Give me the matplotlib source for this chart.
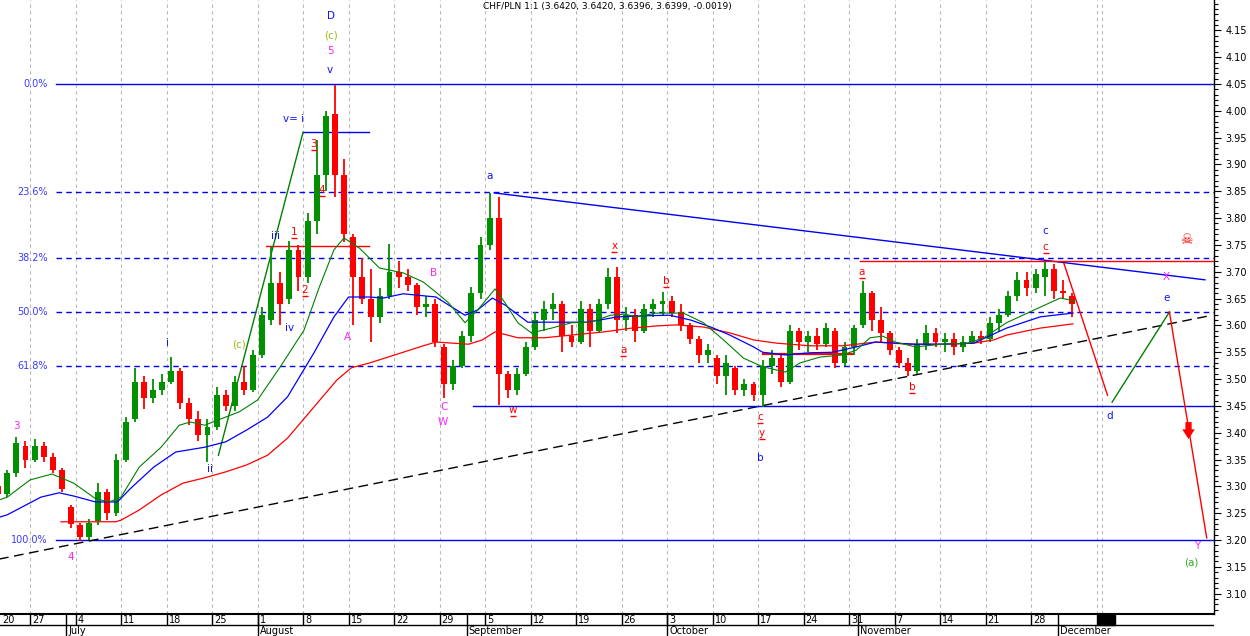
import numpy as np
import matplotlib.pyplot as plt
import matplotlib.transforms as mtransforms
from matplotlib.ticker import MultipleLocator

# === Daily OHLC, trading days 20 Jun 2011 .. 2 Dec 2011 (one row per week) ===
opens = [3.315, 3.300, 3.285, 3.325, 3.375,
         3.350, 3.375, 3.355, 3.330, 3.262,
         3.228, 3.205, 3.235, 3.290, 3.250,
         3.350, 3.425, 3.495, 3.465, 3.480,
         3.495, 3.515, 3.455, 3.425, 3.395,
         3.410, 3.470, 3.450, 3.495, 3.480,
         3.545, 3.610, 3.680, 3.650, 3.740,
         3.690, 3.795, 3.880, 3.995, 3.880,
         3.765, 3.690, 3.650, 3.615, 3.655,
         3.700, 3.690, 3.675, 3.635, 3.640,
         3.560, 3.490, 3.525, 3.580, 3.660,
         3.750, 3.800, 3.510, 3.480, 3.510,
         3.560, 3.610, 3.630, 3.640, 3.580,
         3.570, 3.630, 3.590, 3.640, 3.690,
         3.610, 3.620, 3.590, 3.630, 3.640,
         3.645, 3.625, 3.600, 3.575, 3.545,
         3.540, 3.505, 3.520, 3.480, 3.490,
         3.470, 3.525, 3.540, 3.495, 3.590,
         3.570, 3.580, 3.565, 3.590, 3.530,
         3.560, 3.600, 3.660, 3.610, 3.585,
         3.555, 3.530, 3.515, 3.565, 3.585,
         3.570, 3.575, 3.560, 3.570, 3.580,
         3.575, 3.605, 3.620, 3.655, 3.685,
         3.670, 3.690, 3.705, 3.665, 3.655]
highs = [3.322, 3.305, 3.330, 3.392, 3.385,
         3.388, 3.382, 3.362, 3.335, 3.265,
         3.232, 3.240, 3.306, 3.295, 3.360,
         3.430, 3.520, 3.505, 3.500, 3.510,
         3.542, 3.520, 3.465, 3.440, 3.425,
         3.485, 3.480, 3.505, 3.525, 3.555,
         3.635, 3.746, 3.700, 3.757, 3.750,
         3.810, 3.945, 4.000, 4.048, 3.910,
         3.770, 3.725, 3.705, 3.670, 3.752,
         3.720, 3.705, 3.680, 3.655, 3.650,
         3.565, 3.535, 3.590, 3.672, 3.765,
         3.847, 3.840, 3.515, 3.520, 3.570,
         3.625, 3.645, 3.660, 3.645, 3.600,
         3.645, 3.640, 3.650, 3.707, 3.708,
         3.635, 3.630, 3.640, 3.650, 3.662,
         3.655, 3.640, 3.605, 3.580, 3.565,
         3.545, 3.545, 3.525, 3.500, 3.495,
         3.535, 3.555, 3.545, 3.600, 3.595,
         3.590, 3.595, 3.605, 3.595, 3.570,
         3.600, 3.682, 3.665, 3.635, 3.590,
         3.560, 3.540, 3.575, 3.600, 3.595,
         3.585, 3.585, 3.580, 3.590, 3.590,
         3.615, 3.630, 3.665, 3.700, 3.700,
         3.705, 3.718, 3.715, 3.685, 3.660]
lows = [3.295, 3.278, 3.280, 3.318, 3.335,
        3.345, 3.345, 3.325, 3.290, 3.222,
        3.198, 3.200, 3.228, 3.238, 3.245,
        3.345, 3.420, 3.445, 3.455, 3.470,
        3.490, 3.445, 3.415, 3.385, 3.345,
        3.405, 3.440, 3.440, 3.470, 3.475,
        3.540, 3.600, 3.600, 3.640, 3.665,
        3.680, 3.770, 3.850, 3.840, 3.755,
        3.600, 3.640, 3.570, 3.605, 3.650,
        3.670, 3.665, 3.620, 3.615, 3.560,
        3.465, 3.480, 3.520, 3.570, 3.650,
        3.740, 3.452, 3.465, 3.470, 3.505,
        3.555, 3.590, 3.610, 3.550, 3.560,
        3.565, 3.560, 3.585, 3.630, 3.585,
        3.590, 3.570, 3.585, 3.615, 3.620,
        3.615, 3.590, 3.565, 3.530, 3.530,
        3.490, 3.470, 3.470, 3.468, 3.460,
        3.448, 3.510, 3.485, 3.490, 3.555,
        3.550, 3.555, 3.560, 3.520, 3.525,
        3.545, 3.595, 3.590, 3.570, 3.545,
        3.520, 3.505, 3.510, 3.555, 3.560,
        3.550, 3.545, 3.550, 3.565, 3.565,
        3.570, 3.590, 3.615, 3.645, 3.655,
        3.660, 3.655, 3.650, 3.650, 3.615]
closes = [3.300, 3.285, 3.325, 3.380, 3.350,
          3.375, 3.355, 3.330, 3.295, 3.230,
          3.205, 3.232, 3.290, 3.250, 3.350,
          3.420, 3.495, 3.465, 3.480, 3.495,
          3.515, 3.455, 3.425, 3.395, 3.410,
          3.470, 3.450, 3.495, 3.480, 3.545,
          3.620, 3.680, 3.640, 3.740, 3.690,
          3.795, 3.880, 3.990, 3.880, 3.770,
          3.690, 3.650, 3.615, 3.655, 3.700,
          3.690, 3.675, 3.635, 3.640, 3.570,
          3.490, 3.525, 3.580, 3.660, 3.750,
          3.800, 3.510, 3.480, 3.510, 3.560,
          3.610, 3.630, 3.640, 3.580, 3.570,
          3.630, 3.590, 3.640, 3.690, 3.610,
          3.620, 3.590, 3.630, 3.640, 3.645,
          3.625, 3.600, 3.575, 3.545, 3.555,
          3.505, 3.530, 3.480, 3.490, 3.470,
          3.525, 3.540, 3.495, 3.590, 3.570,
          3.580, 3.565, 3.595, 3.530, 3.560,
          3.595, 3.660, 3.610, 3.585, 3.555,
          3.530, 3.515, 3.565, 3.585, 3.570,
          3.575, 3.560, 3.570, 3.580, 3.575,
          3.605, 3.620, 3.655, 3.685, 3.670,
          3.695, 3.705, 3.665, 3.660, 3.640]

# === Moving averages (x in trading days) ===
ma_fast_x = [0, 2.5, 5, 7.4, 9.8, 12.2, 13.7, 15, 17, 19.4, 21.4, 22.6, 24.2, 25.7, 28, 30,
             32.5, 35.1, 36.8, 38.4, 39.5, 41.2, 43.4, 46, 48.2, 49.6, 51, 52.8, 54.2, 56.1,
             57.2, 58.6, 60.1, 62.3, 64.5, 66.6, 68.8, 70.3, 71.7, 73.8, 76.8, 79, 81.2,
             83.4, 85.5, 88, 89.6, 91.8, 94.3, 95.8, 97.3, 98.7, 100.1, 102.3, 105.2, 108.1,
             109.8, 112.3, 116, 118.2, 119.8]
ma_fast_y = [3.265, 3.280, 3.312, 3.323, 3.306, 3.277, 3.271, 3.280, 3.336, 3.373, 3.414,
             3.420, 3.414, 3.424, 3.439, 3.461, 3.523, 3.591, 3.672, 3.741, 3.763, 3.744,
             3.707, 3.698, 3.681, 3.662, 3.642, 3.605, 3.629, 3.668, 3.642, 3.605, 3.586,
             3.595, 3.605, 3.606, 3.619, 3.621, 3.616, 3.623, 3.623, 3.605, 3.573, 3.539,
             3.523, 3.513, 3.530, 3.541, 3.545, 3.554, 3.577, 3.580, 3.569, 3.560, 3.565,
             3.567, 3.577, 3.605, 3.634, 3.651, 3.646]
ma_mid_x = [0, 2.5, 6.2, 8.2, 9.8, 12.2, 14.6, 16.1, 18.6, 21, 24.2, 26.5, 28.8, 31.1, 33.3,
            36.2, 38.4, 40, 42.3, 43.8, 46, 49.6, 51, 52.8, 54.2, 55.8, 57.2, 59.7, 62.6,
            66.2, 69.6, 72.5, 75.3, 77.6, 79.8, 81.9, 84.5, 85.5, 88, 90.7, 93.2, 95.8,
            97.9, 100.1, 102.3, 105.2, 108.7, 112.3, 116, 119.6]
ma_mid_y = [3.234, 3.247, 3.280, 3.288, 3.282, 3.271, 3.271, 3.297, 3.336, 3.364, 3.373,
            3.383, 3.405, 3.429, 3.467, 3.549, 3.616, 3.653, 3.653, 3.651, 3.659, 3.653,
            3.638, 3.619, 3.629, 3.651, 3.638, 3.606, 3.606, 3.606, 3.616, 3.618, 3.619,
            3.610, 3.597, 3.582, 3.560, 3.550, 3.545, 3.549, 3.550, 3.560, 3.569, 3.567,
            3.565, 3.565, 3.567, 3.595, 3.616, 3.623]
ma_slow_x = [8.4, 14.4, 15, 17, 19.4, 21.8, 24.2, 26.5, 28.8, 31.1, 33.3, 36.2, 38.7, 40.3,
             42.3, 46, 48.2, 49.6, 51.4, 53.2, 54.7, 56.1, 58.6, 61.5, 64.5, 68.1, 71.1,
             73.8, 76, 79, 81.9, 84.5, 87, 90.7, 94.3, 97.9, 101.6, 105.2, 108.7, 110.9,
             112.3, 116, 119.6]
ma_slow_y = [3.234, 3.234, 3.237, 3.256, 3.284, 3.306, 3.316, 3.327, 3.340, 3.358, 3.390,
             3.448, 3.498, 3.521, 3.530, 3.550, 3.562, 3.569, 3.567, 3.565, 3.573, 3.588,
             3.577, 3.577, 3.582, 3.588, 3.595, 3.599, 3.601, 3.597, 3.586, 3.573, 3.567,
             3.562, 3.562, 3.569, 3.565, 3.565, 3.567, 3.573, 3.582, 3.595, 3.603]

# === Axis labels ===
week_days = ['20', '27', '4', '11', '18', '25', '1', '8', '15', '22', '29', '5', '12', '19',
             '26', '3', '10', '17', '24', '31', '7', '14', '21', '28']
week_pos = np.arange(len(week_days)) * 5
months = ['July', 'August', 'September', 'October', 'November', 'December']
month_pos = [9, 30, 53, 75, 96, 118]

# === Fibonacci retracement of 3.20 -> 4.05 ===
fib_names = ['0.0%', '23.6%', '38.2%', '50.0%', '61.8%', '100.0%']
fib_ratio = [0.0, 0.236, 0.382, 0.5, 0.618, 1.0]
fib_top, fib_bottom = 4.05, 3.20

# === Drawn lines: (x0, y0, x1, y1) ===
trend_black = (0, 3.159, 134.9, 3.619)
tri_upper = (56, 3.847, 134.1, 3.685)
base_line = (53.7, 3.450, 135.1, 3.450)
red_level_1 = (30.9, 3.748, 42.2, 3.748)
red_level_2 = (85.5, 3.547, 95.4, 3.547)
red_level_3 = (96.2, 3.720, 135.1, 3.720)
v_eq_i = (35.0, 3.960, 42.3, 3.960)
green_proj = (25.7, 3.358, 35.0, 3.960)
path_x = [118.6, 123.4]
path_y = [3.716, 3.470]
path2_x = [123.9, 130.2]
path2_y = [3.457, 3.625]
path3_x = [130.2, 134.3]
path3_y = [3.625, 3.204]

# wave labels: text, x, y, colour, underlined
BLUE, MAG, RED, OLIVE, GRN = '#1010ff', '#ff22ff', '#ff0000', '#99bb11', '#33aa22'
labels = [
    ('3', 3.5, 3.413, MAG, False), ('4', 9.5, 3.168, MAG, False),
    ('i', 20.1, 3.567, BLUE, False), ('ii', 24.8, 3.332, BLUE, False),
    ('(c)', 28.0, 3.565, OLIVE, False), ('iii', 32.0, 3.767, BLUE, False),
    ('1', 34.0, 3.774, RED, True), ('2', 35.2, 3.666, RED, True),
    ('iv', 33.5, 3.595, BLUE, False), ('v= i', 34.0, 3.985, BLUE, False),
    ('3', 36.2, 3.938, RED, True), ('4', 37.1, 3.852, RED, True),
    ('D', 38.1, 4.177, BLUE, False), ('(c)', 38.1, 4.141, OLIVE, False),
    ('5', 38.0, 4.112, MAG, False), ('v', 37.9, 4.076, BLUE, False),
    ('A', 39.9, 3.578, MAG, False), ('B', 49.3, 3.698, MAG, False),
    ('C', 50.5, 3.448, MAG, False), ('W', 50.4, 3.420, MAG, False),
    ('a', 55.5, 3.879, BLUE, False), ('w', 58.1, 3.443, RED, True),
    ('x', 69.2, 3.748, RED, True), ('a', 70.2, 3.554, RED, True),
    ('b', 74.9, 3.683, RED, True), ('c', 85.2, 3.429, RED, True),
    ('y', 85.4, 3.400, RED, True), ('b', 85.2, 3.353, BLUE, False),
    ('a', 96.4, 3.700, RED, True), ('b', 101.9, 3.485, RED, True),
    ('c', 116.6, 3.776, BLUE, False), ('c', 116.6, 3.746, RED, True),
    ('d', 123.6, 3.431, BLUE, False), ('e', 129.9, 3.651, BLUE, False),
    ('X', 129.9, 3.690, MAG, False), ('Y', 133.3, 3.189, MAG, False),
    ('(a)', 132.6, 3.159, GRN, False),
]

# === Figure ===
W, H = 1250, 636
fig = plt.figure(figsize=(W / 100, H / 100), dpi=100)
ax = fig.add_axes([0, 22 / H, 1214 / W, 614 / H])
x_lo, x_hi = 1.7, 135.1
ax.set_xlim(x_lo, x_hi)
ax.set_ylim(3.0621, 4.2066)

for s in ['left', 'top']:
    ax.spines[s].set_visible(False)
ax.spines['right'].set_linewidth(1.0)
ax.spines['bottom'].set_linewidth(1.5)
ax.set_xticks([])
ax.yaxis.tick_right()
ax.set_yticks(np.round(np.arange(3.10, 4.151, 0.05), 2))
ax.set_yticklabels(['%.2f' % v for v in np.arange(3.10, 4.151, 0.05)])
ax.yaxis.set_minor_locator(MultipleLocator(0.01))
ax.tick_params(axis='y', which='major', direction='out', length=5, width=0.8, pad=3,
               labelsize=7, colors='black')
ax.tick_params(axis='y', which='minor', direction='out', length=3, width=0.8)

# vertical grid
ax.vlines(list(week_pos[1:]) + [122.2, 122.8], 3.0621, 4.2066, colors='#b8b8b8',
          linestyles=(0, (3, 3)), lw=0.8, zorder=1)

# fibonacci levels
blend = mtransforms.blended_transform_factory(ax.transAxes, ax.transData)
for name, r in zip(fib_names, fib_ratio):
    v = fib_top - r * (fib_top - fib_bottom)
    ls = '-' if r in (0.0, 1.0) else (0, (4, 3))
    ax.axhline(v, xmin=56 / 1214, xmax=1, color='#0000ee', lw=1.0, ls=ls, zorder=2)
    ax.text(48 / 1214, v, name, transform=blend, ha='right', va='center',
            color='#3b3bff', fontsize=7)

# drawn lines
ax.plot(trend_black[::2], trend_black[1::2], color='black', lw=1.0, ls=(0, (7, 4)), zorder=3)
for seg, col in [(tri_upper, '#0000ee'), (base_line, '#0000ee'), (v_eq_i, '#0000ee'),
                 (red_level_1, 'red'), (red_level_3, 'red'), (green_proj, 'green')]:
    ax.plot(seg[::2], seg[1::2], color=col, lw=1.0, zorder=3)
ax.plot(red_level_2[::2], red_level_2[1::2], color='red', lw=1.6, zorder=3)
ax.plot(path_x, path_y, color='red', lw=1.0, zorder=3)
ax.plot(path2_x, path2_y, color='green', lw=1.0, zorder=3)
ax.plot(path3_x, path3_y, color='red', lw=1.0, zorder=3)

# candles
xs = np.arange(len(opens)) + 0.5
o, h, l, c = map(np.array, (opens, highs, lows, closes))
cols = np.where(c >= o, '#009000', '#ff0000')
ax.vlines(xs, l, h, colors=cols, lw=1.3, zorder=4)
ax.bar(xs, np.where(np.abs(c - o) < 0.004, 0.004, c - o), bottom=o, width=0.65,
       color=cols, linewidth=0, zorder=4)

# moving averages
ax.plot(ma_slow_x, ma_slow_y, color='#ff0000', lw=0.9, zorder=5)
ax.plot(ma_mid_x, ma_mid_y, color='#0000ff', lw=0.9, zorder=5)
ax.plot(ma_fast_x, ma_fast_y, color='#008000', lw=0.8, zorder=5)

# wave labels; underline is a '_' marker shifted below the glyph
under = mtransforms.offset_copy(ax.transData, fig=fig, x=0, y=-6, units='dots')
for t, x, y, col, ul in labels:
    ax.text(x, y, t, color=col, fontsize=7.5, ha='center', va='center', zorder=6)
    if ul:
        ax.plot([x], [y], marker='_', ms=5, mew=1.0, color=col, transform=under, zorder=6)
ax.text(132.1, 3.759, '\u2620', color='red', fontsize=10, ha='center', va='center', zorder=6)
ax.annotate('', xy=(132.3, 3.383), xytext=(132.3, 3.425),
            arrowprops=dict(arrowstyle='simple,head_width=0.9,head_length=0.7,tail_width=0.45',
                            color='red', lw=0), zorder=6)

fig.text(607 / W, 1 - 7 / H, 'CHF/PLN 1:1 (3.6420, 3.6420, 3.6396, 3.6399, -0.0019)',
         ha='center', va='center', fontsize=6.5)

# date band
ax2 = fig.add_axes([0, 0, 1214 / W, 22 / H])
ax2.set_xlim(x_lo, x_hi)
ax2.set_ylim(0, 1)
ax2.axis('off')
ax2.axhline(0.5, color='black', lw=1.0)
ax2.vlines(week_pos, 0.5, 1, colors='black', lw=1.0)
ax2.vlines(month_pos, 0, 1, colors='black', lw=1.0)
ax2.axvspan(122.2, 124.2, ymin=0.5, ymax=1, color='black')
off = mtransforms.offset_copy(ax2.transData, fig=fig, x=2, y=0, units='dots')
for p, t in zip(week_pos, week_days):
    ax2.text(max(p, x_lo), 0.74, t, transform=off, ha='left', va='center', fontsize=7)
for p, t in zip(month_pos, months):
    ax2.text(p, 0.24, t, transform=off, ha='left', va='center', fontsize=7)

fig.savefig('out.png', dpi=100)
